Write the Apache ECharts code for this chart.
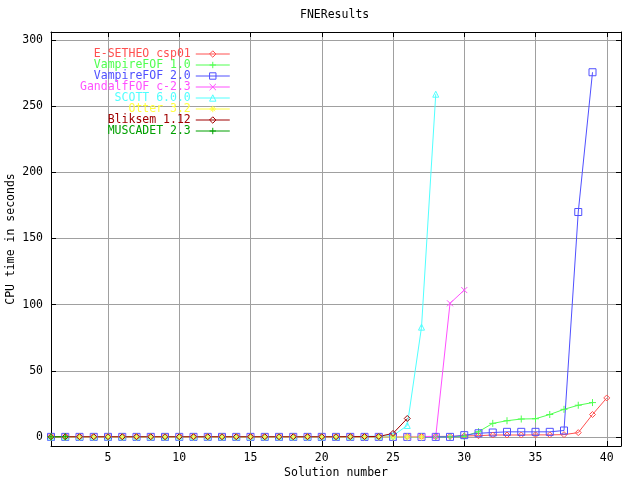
<!DOCTYPE html>
<html><head><meta charset="utf-8">
<script src="https://cdn.jsdelivr.net/npm/echarts@6/dist/echarts.min.js"></script>
<style>html,body{margin:0;padding:0;background:#fff}#c{width:640px;height:480px}</style>
</head><body><div id="c"></div>
<script>
// ---- data ----
const titleText = 'FNEResults';
const xName = 'Solution number';
const yName = 'CPU time in seconds';
const xTicks = [5, 10, 15, 20, 25, 30, 35, 40];
const yTicks = [0, 50, 100, 150, 200, 250, 300];
const seriesNames = ['E-SETHEO csp01', 'VampireFOF 1.0', 'VampireFOF 2.0', 'GandalfFOF c-2.3',
  'SCOTT 6.0.0', 'Otter 3.2', 'Bliksem 1.12', 'MUSCADET 2.3'];
// values for solution numbers 1, 2, 3, ...
const eSetheo = [0.1,0.1,0.1,0.1,0.1,0.1,0.1,0.1,0.1,0.1, 0.1,0.1,0.1,0.1,0.1,0.1,0.1,0.2,0.2,0.2,
  0.2,0.2,0.3,0.3,0.3,0.4,0.4,0.4,0.5,0.8, 1.0,1.5,1.5,1.5,1.6,1.6,1.8,3.3,17,29.5];
const vampire10 = [0.1,0.1,0.1,0.1,0.1,0.1,0.1,0.1,0.1,0.1, 0.1,0.1,0.1,0.1,0.1,0.1,0.1,0.1,0.1,0.1,
  0.1,0.1,0.1,0.1,0.1,0.1,0.1,0.1,0.1,0.5, 4,10.3,12.3,13.6,13.8,17,20.9,24,26];
const vampire20 = [0.1,0.1,0.1,0.1,0.1,0.1,0.1,0.1,0.1,0.1, 0.1,0.1,0.1,0.1,0.1,0.1,0.1,0.1,0.1,0.1,
  0.1,0.1,0.1,0.1,0.1,0.1,0.1,0.1,0.1,1.4, 2.8,3.4,3.9,3.9,3.9,3.9,4.9,170,275.6];
const gandalf = [0.1,0.1,0.1,0.1,0.1,0.1,0.1,0.1,0.1,0.1, 0.1,0.1,0.1,0.1,0.1,0.1,0.1,0.1,0.1,0.1,
  0.1,0.1,0.2,0.2,0.2,0.3,0.3,0.5,101,111];
const scott = [0.2,0.2,0.2,0.2,0.2,0.2,0.2,0.2,0.2,0.2, 0.2,0.2,0.2,0.2,0.2,0.2,0.2,0.2,0.2,0.2,
  0.3,0.3,0.5,0.6,1.0,8.7,83,259];
const otter = [0.0,0.0,0.0,0.0,0.0,0.0,0.0,0.0,0.0,0.0, 0.0,0.0,0.0,0.0,0.0,0.0,0.0,0.0,0.0,0.0,
  0.0,0.0,0.0,0.0,0.0,0.0,0.0];
const bliksem = [0.2,0.2,0.2,0.2,0.2,0.2,0.2,0.2,0.2,0.2, 0.2,0.2,0.2,0.2,0.2,0.2,0.2,0.2,0.2,0.2,
  0.2,0.3,0.3,0.4,2.7,14];
const muscadet = [0.1, 0.2];
const allValues = [eSetheo, vampire10, vampire20, gandalf, scott, otter, bliksem, muscadet];

// ---- styles ----
const colors = ['#ff5050', '#50ff50', '#5050ff', '#ff50ff', '#50ffff', '#ffff40', '#a00000', '#00a000'];
const symbols = ['diamond', 'path://M0,5L10,5M5,0L5,10', 'rect', 'path://M0,0L10,10M10,0L0,10',
  'triangle', 'path://M0,5L10,5M5,0L5,10M1.5,1.5L8.5,8.5M8.5,1.5L1.5,8.5', 'diamond', 'path://M0,5L10,5M5,0L5,10'];
const sizes = [6, 7, 7, 6, 6, 7, 6, 7];
const FONT = 'DejaVu Sans Mono';
const FS = 11.5;
const CLEAR = 'rgba(0,0,0,0)';

const chart = echarts.init(document.getElementById('c'), null, {renderer: 'canvas'});

const series = seriesNames.map((name, k) => ({
  name: name,
  type: 'line',
  xAxisIndex: 0, yAxisIndex: 0,
  data: allValues[k].map((v, i) => [i + 1, v]),
  color: colors[k],
  symbol: symbols[k],
  symbolSize: sizes[k],
  showAllSymbol: true,
  lineStyle: {color: colors[k], width: 1},
  itemStyle: {color: CLEAR, borderColor: colors[k], borderWidth: 1},
  emphasis: {disabled: true},
  animation: false
}));

const tickStyle = {show: true, inside: true, length: 5, lineStyle: {color: '#000', width: 1}};

chart.setOption({
  backgroundColor: '#fff',
  animation: false,
  title: {
    text: titleText, left: 300, top: 9, padding: 0,
    textStyle: {fontFamily: FONT, fontSize: FS, fontWeight: 'normal', color: '#000'}
  },
  legend: {
    orient: 'vertical', align: 'right', left: 80, top: 48, padding: 0,
    itemWidth: 34, itemHeight: 8, itemGap: -1, selectedMode: false,
    textStyle: {fontFamily: FONT, fontSize: FS, lineHeight: 11},
    data: seriesNames.map((n, k) => ({
      name: n,
      textStyle: {color: colors[k]},
      itemStyle: {color: CLEAR, borderColor: colors[k], borderWidth: 1},
      lineStyle: {color: colors[k], width: 1}
    }))
  },
  grid: {left: 51, right: 19, top: 32, bottom: 34, containLabel: false, outerBoundsMode: 'none'},
  xAxis: [{
    type: 'value', min: 1, max: 41, position: 'bottom',
    name: xName, nameLocation: 'middle', nameGap: 21, nameMoveOverlap: false,
    nameTextStyle: {fontFamily: FONT, fontSize: FS, color: '#000'},
    axisLine: {show: true, onZero: false, lineStyle: {color: '#000', width: 1}},
    axisTick: Object.assign({customValues: xTicks}, tickStyle),
    axisLabel: {customValues: xTicks, fontFamily: FONT, fontSize: FS, color: '#000', margin: 6},
    splitLine: {show: true, lineStyle: {color: '#a0a0a0', width: 1}}
  }, {
    type: 'value', min: 1, max: 41, position: 'top',
    axisLine: {show: true, onZero: false, lineStyle: {color: '#000', width: 1}},
    axisTick: Object.assign({customValues: xTicks}, tickStyle),
    axisLabel: {show: false}, splitLine: {show: false}
  }],
  yAxis: [{
    type: 'value', min: -6.8, max: 306, position: 'left',
    name: yName, nameLocation: 'middle', nameGap: 34, nameRotate: 90, nameMoveOverlap: false,
    nameTextStyle: {fontFamily: FONT, fontSize: FS, color: '#000'},
    axisLine: {show: true, onZero: false, lineStyle: {color: '#000', width: 1}},
    axisTick: Object.assign({customValues: yTicks}, tickStyle),
    axisLabel: {customValues: yTicks, fontFamily: FONT, fontSize: FS, color: '#000', margin: 8},
    splitLine: {show: true, lineStyle: {color: '#a0a0a0', width: 1}}
  }, {
    type: 'value', min: -6.8, max: 306, position: 'right',
    axisLine: {show: true, onZero: false, lineStyle: {color: '#000', width: 1}},
    axisTick: Object.assign({customValues: yTicks}, tickStyle),
    axisLabel: {show: false}, splitLine: {show: false}
  }],
  series: series
});
</script>
</body></html>
